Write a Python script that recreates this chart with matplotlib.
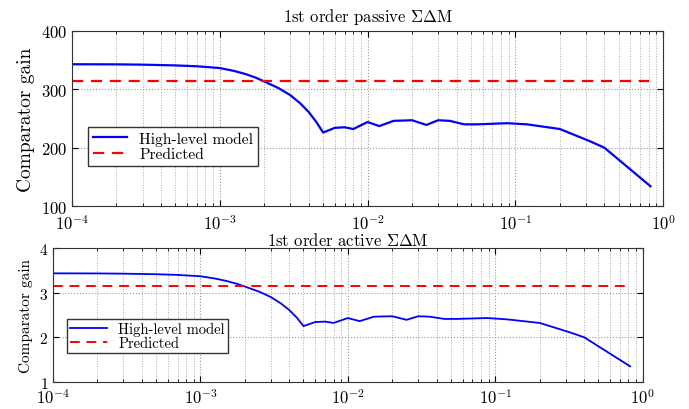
import numpy as np
import matplotlib
matplotlib.use("Agg")
import matplotlib.pyplot as plt
from matplotlib.ticker import LogLocator, NullFormatter

plt.rcParams['font.family'] = 'cmr10'
plt.rcParams['mathtext.fontset'] = 'cm'
plt.rcParams['axes.formatter.use_mathtext'] = True

# data
x_vals = [1e-4, 2e-4, 3e-4, 5e-4, 7e-4, 1e-3, 1.25e-3, 1.5e-3, 1.75e-3, 2e-3, 2.5e-3,
          3e-3, 3.5e-3, 4e-3, 4.5e-3, 5e-3, 6e-3, 7e-3, 8e-3, 1e-2, 1.2e-2, 1.5e-2,
          2e-2, 2.5e-2, 3e-2, 3.6e-2, 4.5e-2, 5.5e-2, 8.8e-2, 0.12, 0.2, 0.32, 0.4, 0.82]
passive_gain = [343, 342.8, 342.3, 341, 339.5, 336.5, 331.5, 326, 320, 313.5, 302,
                290, 276, 261, 244, 226, 234, 235, 232, 244, 237, 246,
                247, 239, 247, 246, 240, 240, 242, 240, 232, 211, 200, 134]
active_gain = [3.43, 3.428, 3.423, 3.41, 3.395, 3.365, 3.315, 3.26, 3.20, 3.135, 3.02,
               2.90, 2.76, 2.61, 2.44, 2.25, 2.34, 2.35, 2.32, 2.43, 2.36, 2.46,
               2.47, 2.39, 2.47, 2.46, 2.41, 2.41, 2.43, 2.40, 2.32, 2.11, 2.00, 1.35]
pred_x = [1e-4, 0.8]
passive_pred = [314.5, 314.5]
active_pred = [3.145, 3.145]


def style_axes(ax, ylim, yticks, label_size, tick_size, xpad):
    ax.set_xscale('log')
    ax.set_xlim(1e-4, 1)
    ax.set_ylim(*ylim)
    ax.set_yticks(yticks)
    ax.xaxis.set_minor_locator(LogLocator(base=10, subs=np.arange(2, 10), numticks=20))
    ax.xaxis.set_minor_formatter(NullFormatter())
    ax.tick_params(which='both', direction='in', top=True, right=True, labelsize=tick_size)
    ax.tick_params(which='major', length=4)
    ax.tick_params(which='minor', length=2.5)
    ax.tick_params(axis='x', which='major', pad=xpad)
    ax.grid(True, which='major', axis='both', linestyle=':', color='#999999', linewidth=0.8)
    ax.grid(True, which='minor', axis='x', linestyle=':', color='#aaaaaa', linewidth=0.7)
    for s in ax.spines.values():
        s.set_color('#333333')
    ax.set_ylabel('Comparator gain', fontsize=label_size)


fig = plt.figure(figsize=(6.89, 4.10), dpi=100)
ax1 = fig.add_axes([0.1045, 0.495, 0.858, 0.427])
ax2 = fig.add_axes([0.0769, 0.066, 0.856, 0.327])

## top: passive
ax1.plot(x_vals, passive_gain, color='blue', lw=1.6, label='High-level model')
ax1.plot(pred_x, passive_pred, color='red', lw=1.6, linestyle=(0, (5, 3.5)), label='Predicted')
style_axes(ax1, (100, 400), [100, 200, 300, 400], 14, 12, 5)
ax1.set_title(r'1st order passive $\Sigma\Delta$M', fontsize=12, pad=7)
ax1.legend(loc='lower left', bbox_to_anchor=(0.027, 0.229), borderaxespad=0,
           fontsize=11.2, fancybox=False, edgecolor='#333333', framealpha=1,
           borderpad=0.3, handlelength=2.2, labelspacing=0.1)

## bottom: active
ax2.plot(x_vals, active_gain, color='blue', lw=1.3, label='High-level model')
ax2.plot(pred_x, active_pred, color='red', lw=1.4, linestyle=(0, (5, 3.5)), label='Predicted')
style_axes(ax2, (1, 4), [1, 2, 3, 4], 11, 12, 4)
ax2.tick_params(axis='y', labelsize=11)
ax2.set_title(r'1st order active $\Sigma\Delta$M', fontsize=12, pad=2)
ax2.legend(loc='lower left', bbox_to_anchor=(0.024, 0.219), borderaxespad=0,
           fontsize=10.5, fancybox=False, edgecolor='#333333', framealpha=1,
           borderpad=0.2, handlelength=2.5, labelspacing=0.0)

fig.savefig('out.png', dpi=100)
